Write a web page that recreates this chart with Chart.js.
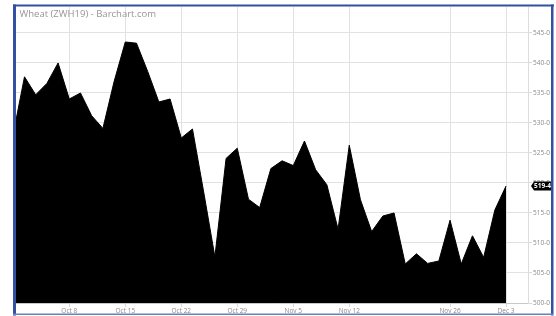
<!DOCTYPE html>
<html>
<head>
<meta charset="utf-8">
<script src="https://cdn.jsdelivr.net/npm/chart.js@4/dist/chart.umd.min.js"></script>
<style>
  html, body { margin: 0; padding: 0; background: #fff; }
  canvas { display: block; }
</style>
</head>
<body>
<canvas id="c" width="556" height="316"></canvas>
<script>
// ---- data ----
const title = 'Wheat (ZWH19) - Barchart.com';
const dates = ['Oct 1','Oct 2','Oct 3','Oct 4','Oct 5','Oct 8','Oct 9','Oct 10','Oct 11','Oct 12',
  'Oct 15','Oct 16','Oct 17','Oct 18','Oct 19','Oct 22','Oct 23','Oct 24','Oct 25','Oct 26',
  'Oct 29','Oct 30','Oct 31','Nov 1','Nov 2','Nov 5','Nov 6','Nov 7','Nov 8','Nov 9',
  'Nov 12','Nov 13','Nov 14','Nov 15','Nov 16','Nov 19','Nov 20','Nov 21','Nov 23',
  'Nov 26','Nov 27','Nov 28','Nov 29','Nov 30','Dec 3'];
const closes = [528.2, 537.7, 534.7, 536.6, 540.0, 534.0, 535.0, 531.2, 529.1, 536.9,
  543.5, 543.3, 538.6, 533.5, 534.0, 527.5, 529.0, 518.5, 507.7, 524.1,
  525.8, 517.3, 515.9, 522.4, 523.7, 522.9, 527.0, 522.2, 519.7, 512.3,
  526.3, 517.2, 511.9, 514.5, 515.0, 506.5, 508.2, 506.6, 507.0,
  513.8, 506.5, 511.2, 507.6, 515.5, 519.5];
const xTickLabels = ['Oct 8','Oct 15','Oct 22','Oct 29','Nov 5','Nov 12','Nov 26','Dec 3'];
const yTicks = [500, 505, 510, 515, 520, 525, 530, 535, 540, 545];

// ---- helpers ----
const xTickIdx = xTickLabels.map(l => dates.indexOf(l));
const fmt = v => { const w = Math.floor(v); return w + '-' + Math.round((v - w) * 8); };
const points = closes.map((v, i) => ({ x: i, y: v }));

const overlay = {
  id: 'overlay',
  afterDraw(chart) {
    const ctx = chart.ctx;
    const ys = chart.scales.y;
    // title
    ctx.save();
    ctx.font = '9.5px "Open Sans"';
    ctx.fillStyle = '#959595';
    ctx.textBaseline = 'alphabetic';
    ctx.textAlign = 'left';
    ctx.fillText(title, 19.5, 17.2);
    // last price tag
    const last = closes[closes.length - 1];
    const y = ys.getPixelForValue(last);
    const x0 = chart.chartArea.right + 3;
    ctx.fillStyle = '#000';
    ctx.beginPath();
    ctx.moveTo(x0, y);
    ctx.lineTo(x0 + 3, y - 4.5);
    ctx.lineTo(553, y - 4.5);
    ctx.lineTo(553, y + 4.5);
    ctx.lineTo(x0 + 3, y + 4.5);
    ctx.closePath();
    ctx.fill();
    ctx.fillStyle = '#fff';
    ctx.font = 'bold 6.5px "Open Sans"';
    ctx.textBaseline = 'middle';
    ctx.fillText(fmt(last), x0 + 3, y + 0.5);
    // frame
    ctx.fillStyle = '#3450a2';
    ctx.fillRect(13, 4.5, 3, 311);
    ctx.fillRect(13, 4.5, 541, 2);
    ctx.fillRect(551, 4.5, 2.5, 311);
    ctx.fillStyle = '#6a7fc0';
    ctx.fillRect(13, 313.5, 540, 1.5);
    ctx.restore();
  }
};

new Chart(document.getElementById('c'), {
  type: 'line',
  data: {
    datasets: [{
      data: points,
      borderColor: '#000',
      borderWidth: 1,
      backgroundColor: '#000',
      fill: 'start',
      pointRadius: 0,
      tension: 0
    }]
  },
  options: {
    responsive: false,
    animation: false,
    devicePixelRatio: 1,
    layout: { padding: { left: 16, top: 7, right: 0, bottom: 0 } },
    plugins: { legend: { display: false }, tooltip: { enabled: false } },
    scales: {
      x: {
        type: 'linear',
        min: 0.241,
        max: 45.96,
        afterBuildTicks: s => { s.ticks = xTickIdx.map(v => ({ value: v })); },
        afterFit: s => { s.height = 13; },
        grid: { color: '#e2e2e2', lineWidth: 1, tickLength: 4, tickColor: '#d8d8d8' },
        border: { color: '#c8c8c8' },
        ticks: {
          autoSkip: false, maxRotation: 0, padding: 0.5,
          color: '#8a8a8a', font: { size: 6.5, family: 'Open Sans' },
          callback: v => dates[v]
        }
      },
      y: {
        position: 'right',
        min: 500,
        max: 549.33,
        afterBuildTicks: s => { s.ticks = yTicks.map(v => ({ value: v })); },
        afterFit: s => { s.width = 28; },
        grid: { color: '#e2e2e2', lineWidth: 1, tickLength: 4, tickColor: '#d8d8d8' },
        border: { color: '#dcdcdc' },
        ticks: {
          padding: 1,
          color: '#8a8a8a', font: { size: 6.5, family: 'Open Sans' },
          callback: v => v + '-0'
        }
      }
    }
  },
  plugins: [overlay]
});
</script>
</body>
</html>
